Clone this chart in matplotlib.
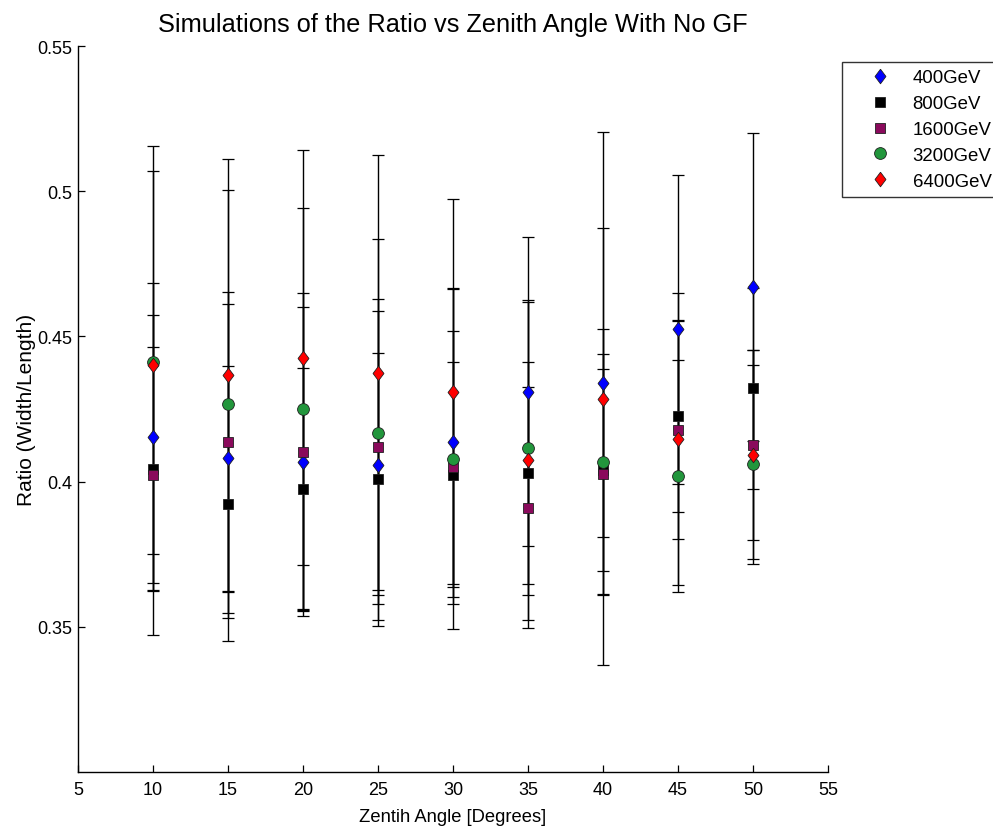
import matplotlib
matplotlib.use("Agg")
import matplotlib.pyplot as plt
import numpy as np

plt.rcParams['font.family'] = ['Liberation Sans', 'DejaVu Sans']

angles = [10, 15, 20, 25, 30, 35, 40, 45, 50]
labels = ['400GeV', '800GeV', '1600GeV', '3200GeV', '6400GeV']

ratio_400 = [0.4153, 0.4081, 0.4069, 0.4057, 0.4136, 0.4310, 0.4341, 0.4524, 0.4671]
err_400 = [0.0530, 0.0532, 0.0532, 0.0532, 0.0532, 0.0532, 0.0532, 0.0532, 0.0531]
ratio_800 = [0.4045, 0.3924, 0.3975, 0.4010, 0.4024, 0.4029, 0.4040, 0.4225, 0.4322]
err_800 = [0.0420, 0.0474, 0.0417, 0.0433, 0.0387, 0.0382, 0.0347, 0.0328, 0.0346]
ratio_1600 = [0.4022, 0.4136, 0.4103, 0.4120, 0.4050, 0.3910, 0.4026, 0.4179, 0.4126]
err_1600 = [0.0550, 0.0516, 0.0547, 0.0509, 0.0470, 0.0415, 0.0413, 0.0376, 0.0328]
ratio_3200 = [0.4411, 0.4267, 0.4251, 0.4169, 0.4078, 0.4114, 0.4066, 0.4020, 0.4059]
err_3200 = [0.0660, 0.0737, 0.0691, 0.0666, 0.0585, 0.0505, 0.0458, 0.0400, 0.0342]
ratio_6400 = [0.4403, 0.4368, 0.4427, 0.4375, 0.4310, 0.4075, 0.4285, 0.4146, 0.4093]
err_6400 = [0.0752, 0.0744, 0.0714, 0.0748, 0.0663, 0.0550, 0.0918, 0.0502, 0.0360]

xticks = [5, 10, 15, 20, 25, 30, 35, 40, 45, 50, 55]
yticks = [0.35, 0.4, 0.45, 0.5, 0.55]
ytick_labels = ['0.35', '0.4', '0.45', '0.5', '0.55']

diamond = [(0, 1), (0.75, 0), (0, -1), (-0.75, 0), (0, 1)]
styles = [
    dict(marker=diamond, color='#0000ff', ms=10.5),
    dict(marker='s', color='#000000', ms=7),
    dict(marker='s', color='#8a0a5c', ms=7),
    dict(marker='o', color='#22963c', ms=8.5),
    dict(marker=diamond, color='#ff0000', ms=10.5),
]
series = [(ratio_400, err_400), (ratio_800, err_800), (ratio_1600, err_1600),
          (ratio_3200, err_3200), (ratio_6400, err_6400)]

fig = plt.figure(figsize=(9.93, 8.29), dpi=100)
ax = fig.add_axes([78/993, 1-773/829, (828-78)/993, (773-47)/829])

for vals, errs in series:
    ax.errorbar(angles, vals, yerr=errs, fmt='none', ecolor='black',
                elinewidth=1.0, capsize=4.5, capthick=0.9, zorder=2)

handles = []
for (vals, errs), st, lab in zip(series, styles, labels):
    h, = ax.plot(angles, vals, linestyle='none', marker=st['marker'],
                 markersize=st['ms'], markerfacecolor=st['color'],
                 markeredgecolor='#202020', markeredgewidth=0.6,
                 zorder=3, label=lab)
    handles.append(h)

ax.set_xlim(5, 55)
ax.set_ylim(0.30, 0.55)
ax.set_xticks(xticks)
ax.set_yticks(yticks)
ax.set_yticklabels(ytick_labels)
ax.spines['top'].set_visible(False)
ax.spines['right'].set_visible(False)
for sp in ['left', 'bottom']:
    ax.spines[sp].set_linewidth(1.0)
ax.tick_params(direction='in', length=5, width=0.9, labelsize=13)
ax.tick_params(axis='x', pad=6.5)
ax.tick_params(axis='y', pad=4)

ax.set_title('Simulations of the Ratio vs Zenith Angle With No GF', fontsize=18.3, pad=11)
ax.set_xlabel('Zentih Angle [Degrees]', fontsize=13.2, labelpad=7)
ax.set_ylabel('Ratio (Width/Length)', fontsize=15, labelpad=1)

leg = fig.legend(handles=handles, loc='upper left',
                 bbox_to_anchor=(842/993, 1-63/829), fontsize=13.4,
                 frameon=True, fancybox=False, edgecolor='black',
                 borderpad=0.4, labelspacing=0.47, handlelength=3.3,
                 handletextpad=0.1, borderaxespad=0)
leg.get_frame().set_linewidth(1.0)

fig.savefig('out.png', dpi=100)
